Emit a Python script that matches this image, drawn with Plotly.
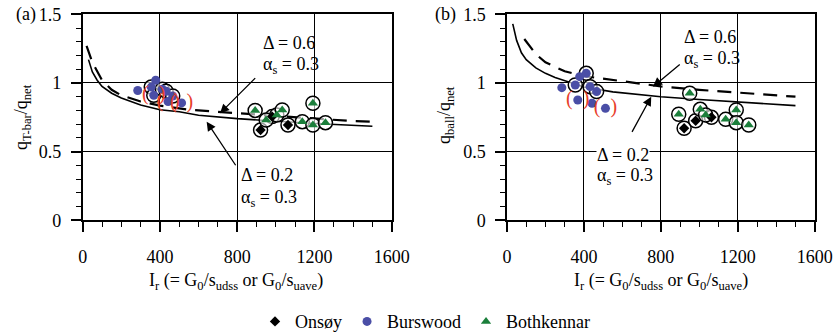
import plotly.graph_objects as go

# ---------------- data ----------------
# model curves, panel (a): T-bar
a_solid_x = [30, 50, 75, 100, 150, 200, 300, 400, 500, 600, 800, 1000, 1200, 1500]
a_solid_y = [1.17, 1.08, 1.02, 0.975, 0.925, 0.89, 0.84, 0.805, 0.79, 0.765, 0.74, 0.72, 0.705, 0.685]
a_dash_x = [20, 50, 100, 150, 200, 300, 400, 550, 700, 850, 1000, 1200, 1400, 1500]
a_dash_y = [1.27, 1.15, 1.02, 0.95, 0.91, 0.865, 0.835, 0.805, 0.79, 0.775, 0.76, 0.74, 0.722, 0.718]
# model curves, panel (b): ball
b_solid_x = [30, 50, 75, 100, 150, 200, 250, 300, 400, 550, 800, 1000, 1200, 1500]
b_solid_y = [1.43, 1.31, 1.22, 1.17, 1.11, 1.07, 1.04, 1.015, 0.97, 0.935, 0.90, 0.88, 0.86, 0.835]
b_dash_x = [90, 150, 200, 300, 400, 500, 600, 800, 1000, 1200, 1500]
b_dash_y = [1.32, 1.21, 1.15, 1.085, 1.05, 1.03, 1.01, 0.975, 0.95, 0.93, 0.90]

# measured data
onsoy_x = [921, 981, 1063]
onsoy_a = [0.657, 0.755, 0.694]
onsoy_b = [0.67, 0.725, 0.75]

burs_x = [285, 355, 368, 378, 412, 432, 442, 466, 512]
burs_a = [0.945, 0.97, 0.91, 1.02, 0.955, 0.94, 0.865, 0.905, 0.855]
burs_b = [0.966, 0.985, 0.876, 1.046, 1.07, 0.973, 0.852, 0.937, 0.815]
burs_ring_a = [False, True, True, False, True, True, False, True, False]
burs_ring_b = [False, True, False, False, True, True, False, True, False]
burs_paren_a = [False, False, True, False, False, False, True, False, True]
burs_paren_b = [False, False, True, False, False, False, False, False, True]

both_x = [893, 950, 1005, 1033, 1137, 1192, 1192, 1257]
both_a = [0.80, 0.73, 0.767, 0.803, 0.718, 0.852, 0.694, 0.711]
both_b = [0.772, 0.925, 0.808, 0.767, 0.735, 0.803, 0.711, 0.694]

x_range = [0, 1600]
y_range = [0, 1.5]

FONT = "Liberation Serif, Times New Roman, DejaVu Serif, serif"
BLUE = "#4a4ea6"
GREEN = "#1b7f3b"
RED = "#e8402a"

fig = go.Figure()


def sel(xs, ys, flags):
    return [x for x, f in zip(xs, flags) if f], [y for y, f in zip(ys, flags) if f]


def add_panel(xa, ya, sx, sy, dx, dy, on_y, bu_y, ring, paren, bo_y, legend):
    fig.add_trace(go.Scatter(x=sx, y=sy, mode="lines", xaxis=xa, yaxis=ya,
                             line=dict(color="black", width=1.6), showlegend=False, hoverinfo="skip"))
    fig.add_trace(go.Scatter(x=dx, y=dy, mode="lines", xaxis=xa, yaxis=ya,
                             line=dict(color="black", width=2.2, dash="14px,9px"), showlegend=False,
                             hoverinfo="skip"))
    # rings (white filled, black outlined circles)
    rx, ry = sel(burs_x, bu_y, ring)
    rx = rx + onsoy_x + both_x
    ry = ry + on_y + bo_y
    fig.add_trace(go.Scatter(x=rx, y=ry, mode="markers", xaxis=xa, yaxis=ya,
                             marker=dict(symbol="circle", size=14, color="rgba(255,255,255,0.6)",
                                         line=dict(color="black", width=1.5)),
                             showlegend=False, hoverinfo="skip"))
    fig.add_trace(go.Scatter(x=onsoy_x, y=on_y, mode="markers", xaxis=xa, yaxis=ya, name="Onsøy",
                             marker=dict(symbol="diamond", size=8, color="black"), showlegend=legend))
    fig.add_trace(go.Scatter(x=burs_x, y=bu_y, mode="markers", xaxis=xa, yaxis=ya, name="Burswood",
                             marker=dict(symbol="circle", size=9, color=BLUE), showlegend=legend))
    fig.add_trace(go.Scatter(x=both_x, y=bo_y, mode="markers", xaxis=xa, yaxis=ya, name="Bothkennar",
                             marker=dict(symbol="triangle-up", size=9, color=GREEN), showlegend=legend))
    px_, py_ = sel(burs_x, bu_y, paren)
    fig.add_trace(go.Scatter(x=px_, y=py_, mode="text", xaxis=xa, yaxis=ya, text=["(  )"] * len(px_),
                             textfont=dict(family=FONT, size=20, color=RED), showlegend=False,
                             hoverinfo="skip"))


add_panel("x", "y", a_solid_x, a_solid_y, a_dash_x, a_dash_y, onsoy_a, burs_a, burs_ring_a, burs_paren_a,
          both_a, True)
add_panel("x2", "y2", b_solid_x, b_solid_y, b_dash_x, b_dash_y, onsoy_b, burs_b, burs_ring_b, burs_paren_b,
          both_b, False)

W, H = 833, 333

common = dict(showline=True, linecolor="black", linewidth=1.5, mirror=True, ticks="outside",
              ticklen=10, tickwidth=1.5, tickcolor="black", showgrid=True, gridcolor="black",
              gridwidth=1.2, zeroline=False, tickfont=dict(family=FONT, size=18, color="black"),
              fixedrange=True, automargin=False)
xcommon = dict(common, range=x_range, tick0=0, dtick=400, ticklabelstandoff=9,
               minor=dict(dtick=100, ticks="outside", ticklen=5, tickwidth=1.3, tickcolor="black",
                          showgrid=False))
ycommon = dict(common, range=y_range, tick0=0, dtick=0.5, ticklabelstandoff=6,
               minor=dict(dtick=0.1, ticks="outside", ticklen=5, tickwidth=1.3, tickcolor="black",
                          showgrid=False))

y_dom = [1 - 220.3 / H, 1 - 14.3 / H]
fig.update_layout(
    width=W, height=H,
    margin=dict(l=0, r=0, t=0, b=0, autoexpand=False),
    paper_bgcolor="white", plot_bgcolor="white",
    font=dict(family=FONT, size=18, color="black"),
    xaxis=dict(xcommon, domain=[82.7 / W, 391.7 / W], anchor="y"),
    yaxis=dict(ycommon, domain=y_dom, anchor="x"),
    xaxis2=dict(xcommon, domain=[507 / W, 814.7 / W], anchor="y2"),
    yaxis2=dict(ycommon, domain=y_dom, anchor="x2"),
    legend=dict(orientation="h", x=255 / W, y=1 - 321.7 / H, xanchor="left", yanchor="middle",
                font=dict(family=FONT, size=18, color="black"), bgcolor="rgba(0,0,0,0)",
                itemwidth=30, tracegroupgap=0),
    showlegend=True,
)

ann = []
# axis titles and panel labels
xt = "I<sub>r</sub> (= G<sub>0</sub>/s<sub>udss</sub> or G<sub>0</sub>/s<sub>uave</sub>)"
ann.append(dict(text=xt, x=236 / W, y=1 - 281.7 / H, xref="paper", yref="paper", showarrow=False,
                xanchor="center", yanchor="middle"))
ann.append(dict(text=xt, x=660.5 / W, y=1 - 281.7 / H, xref="paper", yref="paper", showarrow=False,
                xanchor="center", yanchor="middle"))
ann.append(dict(text="q<sub>T-bar</sub>/q<sub>net</sub>", x=23 / W, y=1 - 117 / H, xref="paper", yref="paper",
                showarrow=False, textangle=-90, xanchor="center", yanchor="middle"))
ann.append(dict(text="q<sub>ball</sub>/q<sub>net</sub>", x=445 / W, y=1 - 115 / H, xref="paper", yref="paper",
                showarrow=False, textangle=-90, xanchor="center", yanchor="middle"))
ann.append(dict(text="(a)", x=26 / W, y=1 - 15 / H, xref="paper", yref="paper", showarrow=False,
                xanchor="center", yanchor="middle"))
ann.append(dict(text="(b)", x=445 / W, y=1 - 15 / H, xref="paper", yref="paper", showarrow=False,
                xanchor="center", yanchor="middle"))


def two_lines(xr, yr, x, y1, y2, d, bg="rgba(0,0,0,0)"):
    ann.append(dict(text="Δ = " + d, x=x, y=y1, xref=xr, yref=yr, showarrow=False, xanchor="left",
                    yanchor="middle", bgcolor=bg, borderpad=0))
    ann.append(dict(text="α<sub>s</sub> = 0.3", x=x, y=y2, xref=xr, yref=yr, showarrow=False,
                    xanchor="left", yanchor="middle", bgcolor=bg, borderpad=0))


def arrow(xr, yr, tx, ty, hx, hy):
    ann.append(dict(text="", x=hx, y=hy, ax=tx, ay=ty, xref=xr, yref=yr, axref=xr, ayref=yr,
                    showarrow=True, arrowhead=2, arrowsize=1.4, arrowwidth=1.3, arrowcolor="black"))


two_lines("x", "y", 928, 1.289, 1.129, "0.6")
two_lines("x", "y", 814, 0.33, 0.162, "0.2")
arrow("x", "y", 901, 1.046, 711, 0.779)
arrow("x", "y", 797, 0.39, 642, 0.718)

two_lines("x2", "y2", 915, 1.337, 1.172, "0.6")
two_lines("x2", "y2", 463, 0.475, 0.317, "0.2", bg="white")
arrow("x2", "y2", 906, 1.143, 759, 0.973)
arrow("x2", "y2", 646, 0.633, 750, 0.90)

fig.update_layout(annotations=ann)

# remove the browser's default 8px page margin so the 833x333 figure fills the window exactly
fig.write_html("out.html", config={"displayModeBar": False},
               post_script="document.body.style.margin='0';document.body.style.overflow='hidden';")
